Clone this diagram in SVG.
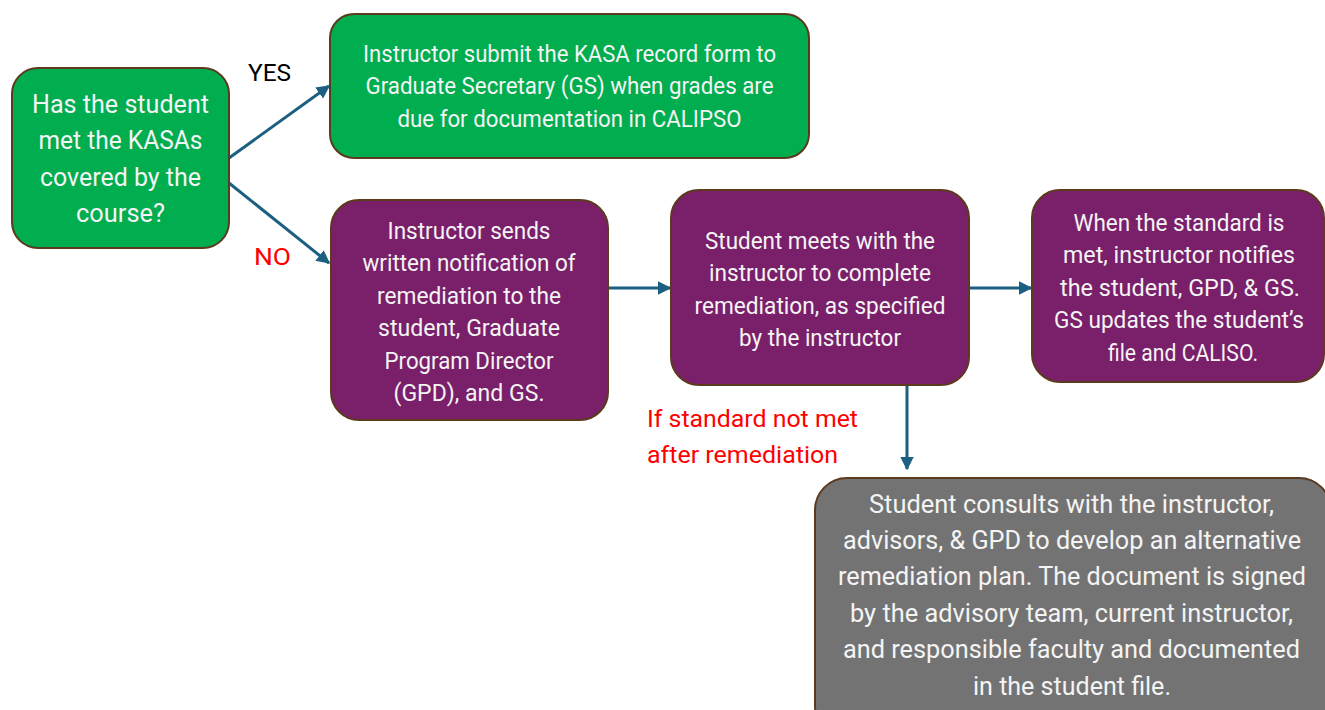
<svg xmlns="http://www.w3.org/2000/svg" width="1325" height="710" viewBox="0 0 1325 710">
  <defs>
    <marker id="arrow" viewBox="0 0 10 10" refX="9" refY="5" markerWidth="4.5" markerHeight="4.5" orient="auto" markerUnits="strokeWidth">
      <path d="M0,0 L10,5 L0,10 Z" fill="#1d5f80"/>
    </marker>
    <style>
      .box { stroke: #5b3a1e; stroke-width: 2; }
      .green { fill: #00ad4f; }
      .purple { fill: #7a1f6a; }
      .gray { fill: #737373; }
      .t { font-family: Roboto, "Liberation Sans", sans-serif; fill: #f4f4f4; text-anchor: middle; }
      .s22 { font-size: 23px; }
      .s24 { font-size: 25px; }
      .lbl { font-family: Roboto, "Liberation Sans", sans-serif; font-size: 24px; }
      .red { fill: #ff0000; }
      .conn { stroke: #1d5f80; stroke-width: 3; fill: none; marker-end: url(#arrow); }
    </style>
  </defs>

  <!-- connectors -->
  <g id="connectors">
    <line class="conn" x1="229" y1="158" x2="329" y2="86"/>
    <line class="conn" x1="229" y1="183" x2="329" y2="263"/>
    <line class="conn" x1="608" y1="288" x2="670" y2="288"/>
    <line class="conn" x1="969" y1="288" x2="1031" y2="288"/>
    <line class="conn" x1="907" y1="385" x2="907" y2="469"/>
  </g>

  <!-- edge labels -->
  <g id="labels">
    <text class="lbl" x="248" y="81" textLength="43" lengthAdjust="spacingAndGlyphs" fill="#000">YES</text>
    <text class="lbl red" x="254" y="265" textLength="37" lengthAdjust="spacingAndGlyphs">NO</text>
    <text class="lbl red" x="647" y="427" textLength="211" lengthAdjust="spacingAndGlyphs">If standard not met</text>
    <text class="lbl red" x="647" y="463" textLength="191" lengthAdjust="spacingAndGlyphs">after remediation</text>
  </g>

  <!-- decision -->
  <g id="question">
    <rect class="box green" x="12" y="68" width="217" height="180" rx="26"/>
    <text class="t s24" x="120.5" y="112.5" textLength="177" lengthAdjust="spacingAndGlyphs">Has the student</text>
    <text class="t s24" x="120.5" y="149" textLength="164" lengthAdjust="spacingAndGlyphs">met the KASAs</text>
    <text class="t s24" x="120.5" y="185.5" textLength="161" lengthAdjust="spacingAndGlyphs">covered by the</text>
    <text class="t s24" x="120.5" y="222" textLength="89" lengthAdjust="spacingAndGlyphs">course?</text>
  </g>

  <g id="submit-record">
    <rect class="box green" x="330" y="14" width="479" height="144" rx="24"/>
    <text class="t s22" x="569.5" y="61.5" textLength="413" lengthAdjust="spacingAndGlyphs">Instructor submit the KASA record form to</text>
    <text class="t s22" x="569.5" y="94" textLength="408" lengthAdjust="spacingAndGlyphs">Graduate Secretary (GS) when grades are</text>
    <text class="t s22" x="569.5" y="126.5" textLength="344" lengthAdjust="spacingAndGlyphs">due for documentation in CALIPSO</text>
  </g>

  <g id="notify-remediation">
    <rect class="box purple" x="331" y="200" width="277" height="220" rx="28"/>
    <text class="t s22" x="469" y="238.5" textLength="163" lengthAdjust="spacingAndGlyphs">Instructor sends</text>
    <text class="t s22" x="469" y="271" textLength="213" lengthAdjust="spacingAndGlyphs">written notification of</text>
    <text class="t s22" x="469" y="303.5" textLength="184" lengthAdjust="spacingAndGlyphs">remediation to the</text>
    <text class="t s22" x="469" y="336" textLength="182" lengthAdjust="spacingAndGlyphs">student, Graduate</text>
    <text class="t s22" x="469" y="368.5" textLength="169" lengthAdjust="spacingAndGlyphs">Program Director</text>
    <text class="t s22" x="469" y="401" textLength="151" lengthAdjust="spacingAndGlyphs">(GPD), and GS.</text>
  </g>

  <g id="complete-remediation">
    <rect class="box purple" x="671" y="190" width="298" height="195" rx="28"/>
    <text class="t s22" x="820" y="248.5" textLength="230" lengthAdjust="spacingAndGlyphs">Student meets with the</text>
    <text class="t s22" x="820" y="281" textLength="222" lengthAdjust="spacingAndGlyphs">instructor to complete</text>
    <text class="t s22" x="820" y="313.5" textLength="251" lengthAdjust="spacingAndGlyphs">remediation, as specified</text>
    <text class="t s22" x="820" y="346" textLength="162" lengthAdjust="spacingAndGlyphs">by the instructor</text>
  </g>

  <g id="standard-met">
    <rect class="box purple" x="1032" y="190" width="292" height="192" rx="28"/>
    <text class="t s22" x="1179" y="230.5" textLength="211" lengthAdjust="spacingAndGlyphs">When the standard is</text>
    <text class="t s22" x="1179" y="263" textLength="232" lengthAdjust="spacingAndGlyphs">met, instructor notifies</text>
    <text class="t s22" x="1180" y="295.5" textLength="240" lengthAdjust="spacingAndGlyphs">the student, GPD, &amp; GS.</text>
    <text class="t s22" x="1179" y="328" textLength="250" lengthAdjust="spacingAndGlyphs">GS updates the student’s</text>
    <text class="t s22" x="1183" y="360.5" textLength="150" lengthAdjust="spacingAndGlyphs">file and CALISO.</text>
  </g>

  <g id="alternative-plan">
    <rect class="box gray" x="815" y="478" width="516" height="260" rx="32"/>
    <text class="t s24" x="1071.5" y="512.5" textLength="405" lengthAdjust="spacingAndGlyphs">Student consults with the instructor,</text>
    <text class="t s24" x="1072" y="548.9" textLength="458" lengthAdjust="spacingAndGlyphs">advisors, &amp; GPD to develop an alternative</text>
    <text class="t s24" x="1072" y="585.3" textLength="468" lengthAdjust="spacingAndGlyphs">remediation plan. The document is signed</text>
    <text class="t s24" x="1071.5" y="621.7" textLength="443" lengthAdjust="spacingAndGlyphs">by the advisory team, current instructor,</text>
    <text class="t s24" x="1071.5" y="658.1" textLength="457" lengthAdjust="spacingAndGlyphs">and responsible faculty and documented</text>
    <text class="t s24" x="1072" y="694.5" textLength="198" lengthAdjust="spacingAndGlyphs">in the student file.</text>
  </g>
</svg>
